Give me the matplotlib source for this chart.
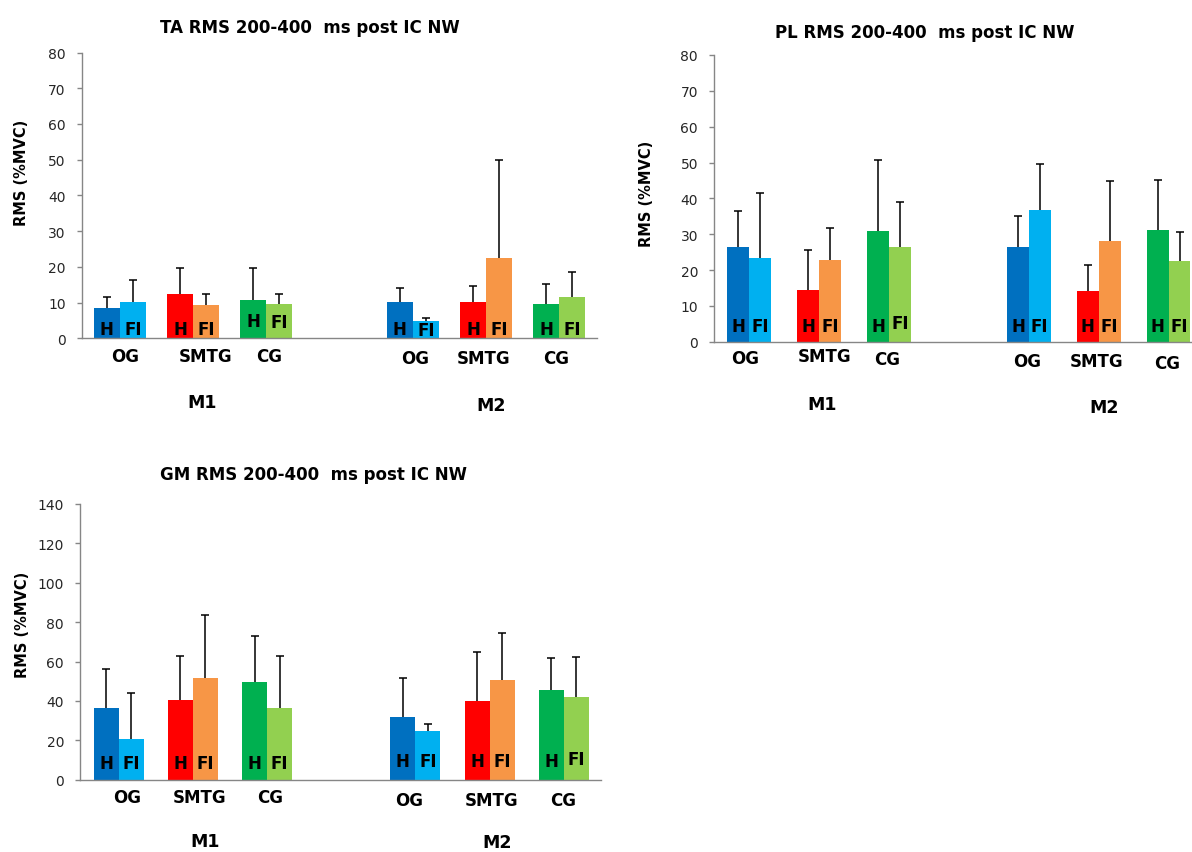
import numpy as np
import matplotlib
matplotlib.use("Agg")
import matplotlib.pyplot as plt

# group / condition labels
groups = ["OG", "SMTG", "CG", "OG", "SMTG", "CG"]
sessions = ["M1", "M2"]
x_pos = [0, 1, 2, 4, 5, 6]

# TA RMS (%MVC), mean and SD (upper bar only)
ta_h = [8.5, 12.5, 10.8, 10.1, 10.1, 9.7]
ta_h_sd = [3.0, 7.1, 8.8, 3.9, 4.6, 5.5]
ta_fi = [10.1, 9.3, 9.7, 4.9, 22.5, 11.7]
ta_fi_sd = [6.2, 3.1, 2.7, 0.7, 27.3, 6.9]

# PL RMS (%MVC)
pl_h = [26.5, 14.5, 30.8, 26.5, 14.2, 31.1]
pl_h_sd = [10.0, 11.1, 20.0, 8.5, 7.3, 14.1]
pl_fi = [23.3, 22.8, 26.5, 36.7, 28.1, 22.5]
pl_fi_sd = [18.1, 9.0, 12.5, 12.8, 16.7, 8.1]

# GM RMS (%MVC)
gm_h = [36.2, 40.6, 49.8, 32.0, 39.8, 45.5]
gm_h_sd = [19.8, 22.4, 23.2, 19.8, 24.9, 16.3]
gm_fi = [20.7, 51.8, 36.2, 24.9, 50.6, 42.0]
gm_fi_sd = [23.1, 32.0, 26.8, 3.2, 23.9, 20.5]

h_colors = ["#0070C0", "#FF0000", "#00B050", "#0070C0", "#FF0000", "#00B050"]
fi_colors = ["#00B0F0", "#F79646", "#92D050", "#00B0F0", "#F79646", "#92D050"]

W, H = 1192, 853
PX = 0.72  # px -> pt at dpi 100
AXIS_GREY = "#868686"


def draw_panel(ax, h, h_sd, fi, fi_sd, ymax, ystep, bar_w, xlim,
               hf_base, cat_dx, cat_dy, ses_dx, ses_dy):
    x = np.array(x_pos, dtype=float)
    ax.bar(x - bar_w / 2, h, bar_w, color=h_colors, linewidth=0)
    ax.bar(x + bar_w / 2, fi, bar_w, color=fi_colors, linewidth=0)
    for xs, vals, sd in ((x - bar_w / 2, h, h_sd), (x + bar_w / 2, fi, fi_sd)):
        _, caps, _ = ax.errorbar(xs, vals, yerr=[np.zeros(len(sd)), sd], fmt="none",
                                 ecolor="black", elinewidth=1.1, capsize=3, capthick=1.1)
        # plus-only bars: hide the cap at the bar top
        caps[0].set_visible(False)

    ax.set_xlim(*xlim)
    ax.set_ylim(0, ymax)
    ax.set_yticks(np.arange(0, ymax + 1, ystep))
    ax.set_xticks([])
    for s in ("top", "right"):
        ax.spines[s].set_visible(False)
    for s in ("left", "bottom"):
        ax.spines[s].set_color(AXIS_GREY)
        ax.spines[s].set_linewidth(1.0)
    ax.tick_params(axis="y", direction="out", length=3.5, width=1.0,
                   color=AXIS_GREY, labelcolor="#262626", labelsize=10, pad=8)

    # H / FI tags inside bars
    for i, xi in enumerate(x):
        ax.annotate("H", xy=(xi - bar_w / 2, 0), xytext=(0, hf_base[2 * i] * PX),
                    textcoords="offset points", ha="center", va="baseline",
                    fontsize=12, fontweight="bold", color="black")
        ax.annotate("FI", xy=(xi + bar_w / 2, 0), xytext=(0, hf_base[2 * i + 1] * PX),
                    textcoords="offset points", ha="center", va="baseline",
                    fontsize=12, fontweight="bold", color="black")

    # group labels under the axis
    for i, xi in enumerate(x):
        ax.annotate(groups[i], xy=(xi, 0), xytext=(cat_dx[i] * PX, -cat_dy[i] * PX),
                    textcoords="offset points", ha="center", va="center",
                    fontsize=12, fontweight="bold", color="black",
                    annotation_clip=False)
    for j, xi in enumerate([1, 5]):
        ax.annotate(sessions[j], xy=(xi, 0), xytext=(ses_dx[j] * PX, -ses_dy[j] * PX),
                    textcoords="offset points", ha="center", va="center",
                    fontsize=12.5, fontweight="bold", color="black",
                    annotation_clip=False)


fig = plt.figure(figsize=(W / 100, H / 100), dpi=100)


def add_axes(left, right, top, bottom):
    return fig.add_axes([left / W, 1 - bottom / H, (right - left) / W, (bottom - top) / H])


# TA
ax1 = add_axes(81.7, 597, 53.5, 339.3)
draw_panel(ax1, ta_h, ta_h_sd, ta_fi, ta_fi_sd, 80, 10, 0.355, (-0.522, 6.515),
           hf_base=[4.5, 4.5, 4.5, 4.5, 12.5, 11.5, 4.5, 3, 4.5, 4.5, 4.5, 4.5],
           cat_dx=[5, 12, 3, 2, -2, -3], cat_dy=[18, 18, 18, 20, 20, 20],
           ses_dx=[9, 5], ses_dy=[64, 67])

# PL (cut by the right edge of the picture)
ax2 = add_axes(714, 1203.6, 56, 342.7)
draw_panel(ax2, pl_h, pl_h_sd, pl_fi, pl_fi_sd, 80, 10, 0.312, (-0.504, 6.5),
           hf_base=[11, 11, 11, 11, 11, 13.5, 11, 11, 11, 11, 11, 11],
           cat_dx=[-4, 5, -2, -2, -2, -2], cat_dy=[16, 14, 17, 19, 19, 21],
           ses_dx=[3, 5], ses_dy=[62, 65])

# GM
ax3 = add_axes(80, 600.5, 505, 780.7)
draw_panel(ax3, gm_h, gm_h_sd, gm_fi, gm_fi_sd, 140, 20, 0.337, (-0.523, 6.496),
           hf_base=[11.5, 11.5, 11.5, 11.5, 11.5, 11.5, 14, 14, 14, 14, 14, 16],
           cat_dx=[8, 6.5, 2.6, -6, 2, -1], cat_dy=[17.6, 17.6, 17.6, 20, 20, 20],
           ses_dx=[12.5, 7.5], ses_dy=[61.5, 62.5])

# titles and y labels
titles = [
    ("TA RMS 200-400  ms post IC NW", 309.4, 28),
    ("PL RMS 200-400  ms post IC NW", 924.7, 33.4),
    ("GM RMS 200-400  ms post IC NW", 313.9, 475),
]
for t, tx, ty in titles:
    fig.text(tx / W, 1 - ty / H, t, ha="center", va="center",
             fontsize=12, fontweight="bold", color="black")

for lx, ly in [(21.7, 173.3), (646.3, 194), (22.3, 625)]:
    fig.text(lx / W, 1 - ly / H, "RMS (%MVC)", rotation=90, ha="center", va="center",
             fontsize=10.5, fontweight="bold", color="black")

fig.savefig("out.png", dpi=100)
plt.close(fig)
